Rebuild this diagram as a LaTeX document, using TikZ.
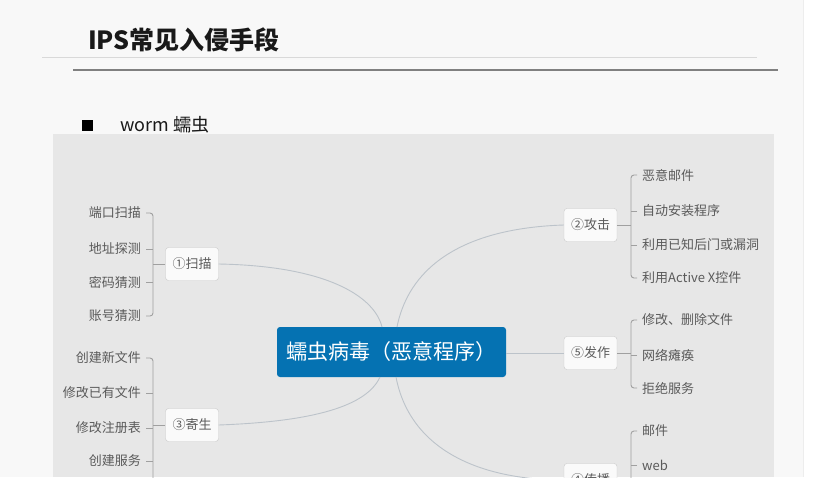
\documentclass[tikz,border=0pt]{standalone}
\usepackage{fontspec}
\setmainfont{Noto Sans CJK SC}
\usetikzlibrary{calc}
\definecolor{pagebg}{HTML}{F8F8F8}
\definecolor{mapbg}{HTML}{E7E7E7}
\definecolor{coreblue}{HTML}{0572B2}
\definecolor{leafgray}{HTML}{5A5A5A}
\definecolor{brkgray}{HTML}{A0A0A0}
\definecolor{curvegray}{HTML}{BCC3CA}
\definecolor{boxline}{HTML}{C9C9C9}
\tikzset{
  leaf/.style={inner sep=0pt, text=leafgray, font=\fontsize{13}{15}\selectfont},
  subbox/.style={draw=boxline, fill=white!98!black, rounded corners=3pt, minimum width=53pt, minimum height=33pt, inner sep=0pt, text=leafgray, font=\fontsize{13}{15}\selectfont},
  corebox/.style={fill=coreblue, rounded corners=3pt, minimum width=229pt, minimum height=50pt, inner sep=0pt, text=white, font=\fontsize{21}{24}\selectfont},
  brk/.style={draw=brkgray, line width=0.9pt},
  link/.style={draw=curvegray, line width=0.9pt},
}
\begin{document}
\begin{tikzpicture}[x=1pt,y=-1pt]
\useasboundingbox (0,0) rectangle (840,477);
\clip (0,0) rectangle (840,477);
% page
\fill[white] (0,0) rectangle (840,477);
\fill[pagebg] (0,0) rectangle (803,477);
\draw[black!7, line width=0.8pt] (803,0) -- (803,477);
% title
\node[anchor=west, inner sep=0pt, text=black!90, font=\fontsize{25}{28}\selectfont\bfseries] (title) at (88,40) {IPS常见入侵手段};
\draw[black!15, line width=0.8pt] (42,57) -- (757,57);
\draw[black!50, line width=1.5pt] (73,70) -- (778,70);
% bullet
\fill[black] (82,120) rectangle (93,131);
\node[anchor=west, inner sep=0pt, text=black!90, font=\fontsize{18}{20}\selectfont] (bullet) at (120,125) {worm 蠕虫};
% mind map area
\fill[mapbg] (53,134) rectangle (774,477);

% core
\node[corebox] (core) at (391.5,352) {蠕虫病毒（恶意程序）};
\coordinate (cTL) at (382,327);
\coordinate (cTR) at (397,327);
\coordinate (cBL) at (380,377);
\coordinate (cBR) at (396,377);

% branch nodes
\node[subbox] (scan) at (192,264) {①扫描};
\node[subbox] (para) at (192,425) {③寄生};
\node[subbox] (atk)  at (590.5,225) {②攻击};
\node[subbox] (burst) at (590.5,353) {⑤发作};
\node[subbox] (spread) at (590.5,480) {④传播};

% links from core
\draw[link] (scan.east) .. controls (330,266) and (375,298) .. (cTL);
\draw[link] (cTR) .. controls (410,262) and (470,228) .. (atk.west);
\draw[link] (cBL) .. controls (365,410) and (300,422) .. (para.east);
\draw[link] (cBR) .. controls (410,450) and (480,480) .. (spread.west);
\draw[link] (core.east |- burst.west) -- (burst.west);

% bracket x references
\coordinate (bL) at (153,0);
\coordinate (bR) at (631,0);

% scan leaves
\node[leaf, anchor=east] (s1) at (141,213) {端口扫描};
\node[leaf, anchor=east] (s2) at (141,249) {地址探测};
\node[leaf, anchor=east] (s3) at (141,282) {密码猜测};
\node[leaf, anchor=east] (s4) at (141,316) {账号猜测};
\draw[brk, rounded corners=3pt] ([xshift=5pt]s1.east) -- (s1.east -| bL) -- (s4.east -| bL) -- ([xshift=5pt]s4.east);
\draw[brk] ([xshift=5pt]s2.east) -- (s2.east -| bL);
\draw[brk] ([xshift=5pt]s3.east) -- (s3.east -| bL);
\draw[brk] (scan.west) -- (scan.west -| bL);

% parasite leaves
\node[leaf, anchor=east] (p1) at (141,358) {创建新文件};
\node[leaf, anchor=east] (p2) at (141,393) {修改已有文件};
\node[leaf, anchor=east] (p3) at (141,428) {修改注册表};
\node[leaf, anchor=east] (p4) at (141,461) {创建服务};
\coordinate (pEnd) at (153,500);
\draw[brk, rounded corners=3pt] ([xshift=5pt]p1.east) -- (p1.east -| bL) -- (pEnd);
\draw[brk] ([xshift=5pt]p2.east) -- (p2.east -| bL);
\draw[brk] ([xshift=5pt]p3.east) -- (p3.east -| bL);
\draw[brk] ([xshift=5pt]p4.east) -- (p4.east -| bL);
\draw[brk] (para.west) -- (para.west -| bL);

% attack leaves
\node[leaf, anchor=west] (a1) at (642,175) {恶意邮件};
\node[leaf, anchor=west] (a2) at (642,211) {自动安装程序};
\node[leaf, anchor=west] (a3) at (642,245) {利用已知后门或漏洞};
\node[leaf, anchor=west] (a4) at (642,278) {利用Active X控件};
\draw[brk, rounded corners=3pt] ([xshift=-5pt]a1.west) -- (a1.west -| bR) -- (a4.west -| bR) -- ([xshift=-5pt]a4.west);
\draw[brk] ([xshift=-5pt]a2.west) -- (a2.west -| bR);
\draw[brk] ([xshift=-5pt]a3.west) -- (a3.west -| bR);
\draw[brk] (atk.east) -- (atk.east -| bR);

% burst leaves
\node[leaf, anchor=west] (b1) at (642,320) {修改、删除文件};
\node[leaf, anchor=west] (b2) at (642,355) {网络瘫痪};
\node[leaf, anchor=west] (b3) at (642,388) {拒绝服务};
\draw[brk, rounded corners=3pt] ([xshift=-5pt]b1.west) -- (b1.west -| bR) -- (b3.west -| bR) -- ([xshift=-5pt]b3.west);
\draw[brk] ([xshift=-5pt]b2.west) -- (b2.west -| bR);
\draw[brk] (burst.east) -- (burst.east -| bR);

% spread leaves
\node[leaf, anchor=west] (w1) at (642,431) {邮件};
\node[leaf, anchor=west] (w2) at (642,465) {web};
\coordinate (wEnd) at (631,500);
\draw[brk, rounded corners=3pt] ([xshift=-5pt]w1.west) -- (w1.west -| bR) -- (wEnd);
\draw[brk] ([xshift=-5pt]w2.west) -- (w2.west -| bR);
\draw[brk] (spread.east) -- (spread.east -| bR);
\end{tikzpicture}
\end{document}
